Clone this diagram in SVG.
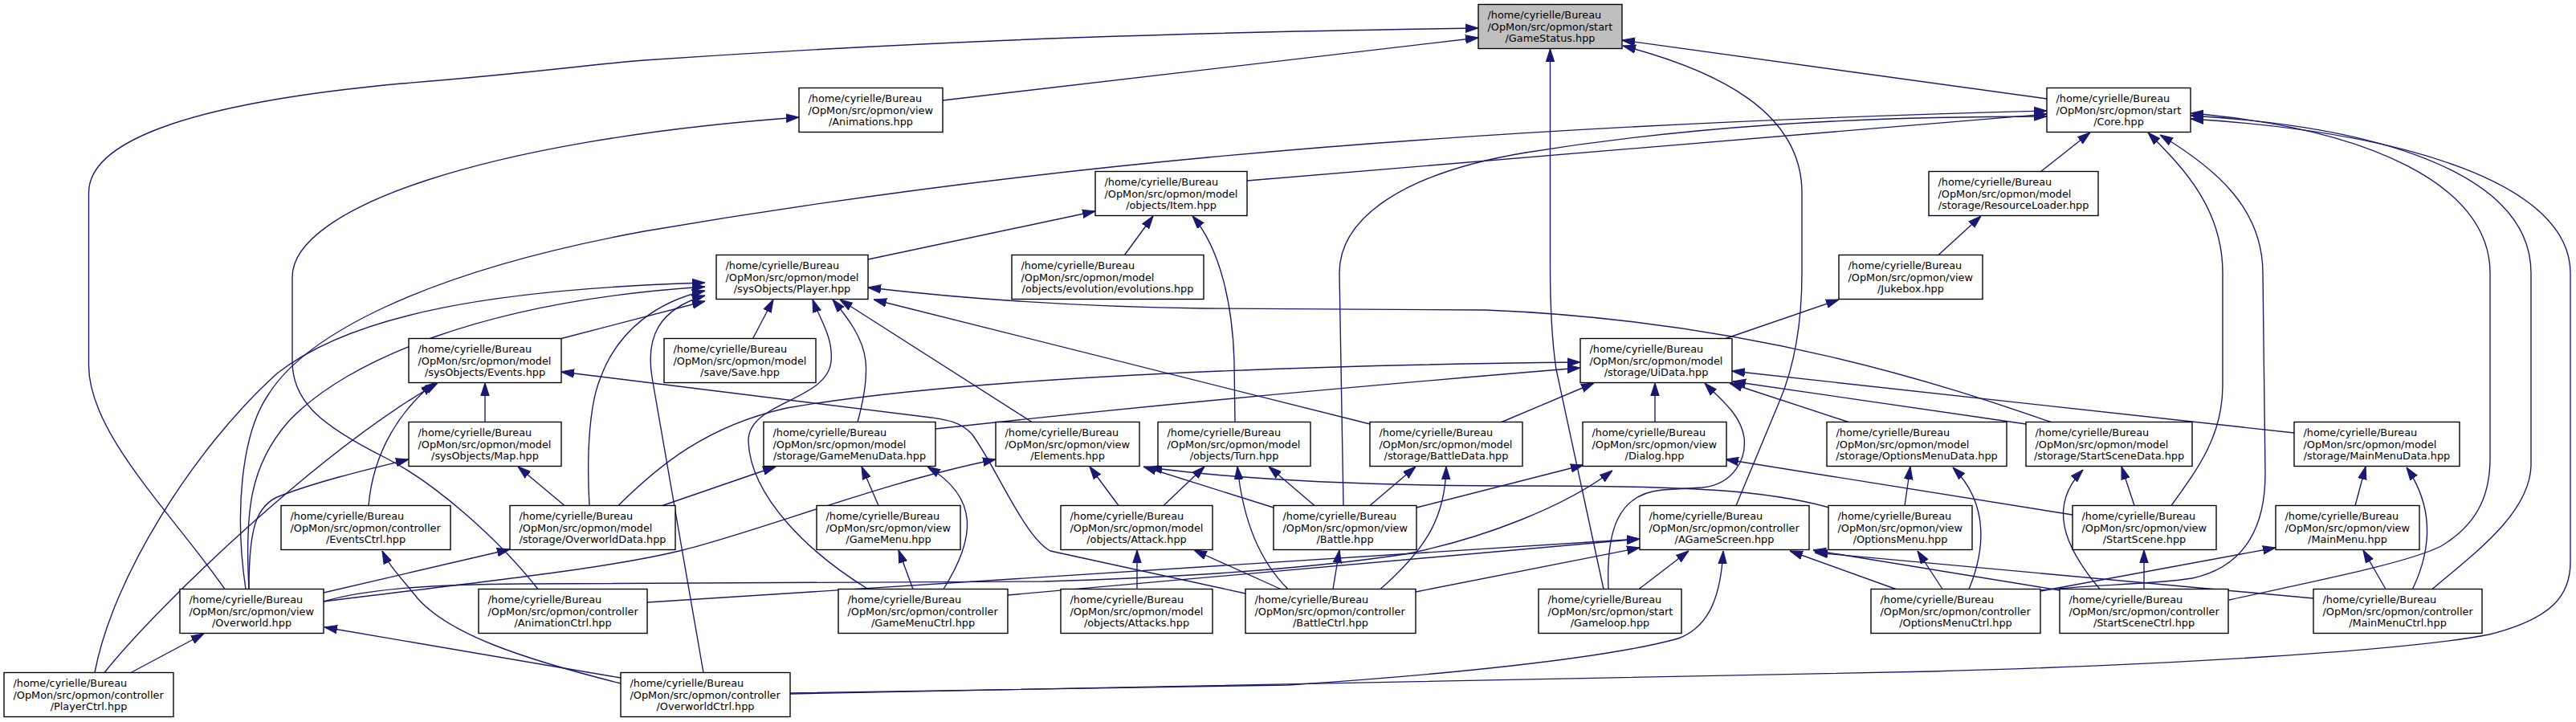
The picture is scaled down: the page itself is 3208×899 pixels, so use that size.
<svg xmlns="http://www.w3.org/2000/svg" width="3208" height="899" viewBox="0 0 3208 899">
<style>
.n rect{fill:#fff;stroke:#000;stroke-width:1.37}
.root rect{fill:#bfbfbf}
text{font-family:"DejaVu Sans","Liberation Sans",sans-serif;font-size:12.85px;fill:#000}
text.c{text-anchor:middle}
#edges path{fill:none;stroke:#191970;stroke-width:1.37;marker-end:url(#a)}
</style>
<defs>
<marker id="a" markerUnits="userSpaceOnUse" markerWidth="16" markerHeight="12" viewBox="0 0 14 10" refX="14" refY="5" orient="auto"><path d="M0,0.5 L14,5 L0,9.5 z" fill="#191970" stroke="#191970" stroke-width="1"/></marker>
</defs>
<rect width="3208" height="899" fill="#fff"/>
<g id="edges">
<path d="M280,733.5 C215,640 110.5,540 110.5,455 L110.5,240 C110.5,180 220,130 500,104 C650,92 720,82 802,75 C1200,48 1500,40 1841,35"/>
<path d="M1174,125 L1841,47"/>
<path d="M2549,123 L2020,50"/>
<path d="M2162,629.5 L2216,500 C2235,455 2244,400 2244,340 L2244,240 C2244,140 2140,88 2021,57"/>
<path d="M1997,733.5 L1938,460 C1932,420 1930.5,380 1930.5,330 L1930.5,61"/>
<path d="M1553,225 L2549,142"/>
<path d="M306,733.5 C292,640 300,540 335,490 C380,420 520,340 802,288 C1200,220 1700,160 2549,138"/>
<path d="M310,733.5 C305,640 310,580 360,524 C430,450 600,375 878,357"/>
<path d="M118,837.5 C140,720 240,560 345,465 C440,390 620,360 878,352"/>
<path d="M130,837.5 C200,750 400,560 545,477"/>
<path d="M163,837.5 L254,789"/>
<path d="M310,733.5 C310,660 318,628 350,617 C400,598 460,584 509,572"/>
<path d="M403,738 L635,684"/>
<path d="M403,749 C550,730 750,710 850,685 C950,660 1100,600 1240,572"/>
<path d="M403,749 C450,735 520,728 650,727 L1300,724 C1500,718 1650,705 1750,690 C1850,670 1950,630 2008,586"/>
<path d="M773,844 L404,781"/>
<path d="M876,837.5 L812,470 C804,420 820,385 878,368"/>
<path d="M773,851 C650,820 560,790 520,745 C500,720 485,705 476,686"/>
<path d="M984,863 L1604,853 C1800,840 2000,820 2090,795 C2130,780 2143,740 2146,686"/>
<path d="M984,864 C1500,855 2000,845 2406,836 C2700,828 3000,810 3100,790 C3180,770 3201,740 3201,700 L3201,340 C3201,230 3000,165 2728,148"/>
<path d="M670,733.5 C620,670 540,600 480,570 C400,530 364,500 364,450 L364,345 C364,260 600,175 995,146"/>
<path d="M806,750 L2042,671"/>
<path d="M1255,741 L2042,671"/>
<path d="M1763,737 L2042,682"/>
<path d="M2041,733.5 L2103,686"/>
<path d="M2003,733.5 C2000,660 2015,615 2070,610 L2120,607 C2160,603 2175,570 2172,545 C2168,515 2140,495 2123,477"/>
<path d="M2361,733.5 L2229,686"/>
<path d="M2565,735 L2258,685"/>
<path d="M2881,745 L2260,688"/>
<path d="M2419,733.5 L2388,686"/>
<path d="M2452,733.5 C2470,690 2480,630 2432,582"/>
<path d="M2541.5,735 C2600,728 2680,728 2730,720 C2800,705 2821,650 2821,590 L2818,340 C2818,260 2760,210 2690,168"/>
<path d="M2541.5,736 L2834,682"/>
<path d="M2670,733.5 L2670,685"/>
<path d="M2615,733.5 C2570,680 2550,630 2594,585"/>
<path d="M2776,747 C2900,720 3000,700 3040,680 C3090,650 3101,610 3101,570 L3101,340 C3101,230 2950,160 2728,141"/>
<path d="M3029,733.5 C3080,690 3150,640 3152,580 L3152,340 C3152,230 3000,160 2728,144"/>
<path d="M2971,733.5 L2943,685"/>
<path d="M3004.5,733.5 C3030,680 3030,630 2997,582"/>
<path d="M2933,629.5 L2946,581"/>
<path d="M2658,629.5 L2642,581"/>
<path d="M2704,629.5 C2740,580 2768,540 2768,480 L2768,340 C2768,260 2720,210 2675,165"/>
<path d="M2581,641 L2149,572"/>
<path d="M2372,629.5 L2379,581"/>
<path d="M2278,632 C2200,610 2100,605 1900,605 C1700,605 1550,598 1431,582"/>
<path d="M1586,632 L1424,581"/>
<path d="M1637,629.5 L1580,581"/>
<path d="M1706,629.5 L1763,581"/>
<path d="M1764,632 L1972,579"/>
<path d="M1673,629.5 L1668,340 C1668,270 1750,215 1900,190 C2100,158 2300,145 2549,145"/>
<path d="M1660,733.5 L1668,685"/>
<path d="M1719,733.5 C1780,680 1800,640 1801,581"/>
<path d="M1604,733.5 C1570,700 1548,650 1541,581"/>
<path d="M1595,733.5 L1487,685"/>
<path d="M1551,739 L1308,686 C1275,668 1240,580 1210,540 C1195,525 1180,523 1160,520 L699,463"/>
<path d="M1393,629.5 L1357,581"/>
<path d="M1449,629.5 L1500,581"/>
<path d="M1416,733.5 L1416,685"/>
<path d="M1137,733.5 L1119,685"/>
<path d="M1175,733.5 C1215,670 1220,620 1155,581"/>
<path d="M1081,733.5 C1010,690 935,620 932,550 C930,500 1030,500 1035,450 C1038,420 1020,395 1012,373"/>
<path d="M1068,525.5 C1075,500 1080,470 1078,450 C1075,420 1055,395 1037,373"/>
<path d="M1285,525.5 L1046,373"/>
<path d="M1706,528 L1088,373"/>
<path d="M937.6,421.5 L963,373"/>
<path d="M1400.5,317.5 L1436,269"/>
<path d="M1081,323 L1364,263"/>
<path d="M1538,525.5 L1537,450 C1535,380 1520,310 1485,269"/>
<path d="M699,421.5 L878,375"/>
<path d="M459,629.5 C465,560 500,510 540,477"/>
<path d="M604,525.5 L604,477"/>
<path d="M703,629.5 L645,581"/>
<path d="M734,629.5 C730,560 735,500 748,470 C770,410 820,375 878,362"/>
<path d="M825,629.5 L966,581"/>
<path d="M770,629.5 C820,580 880,530 980,508 C1200,470 1600,455 1968,451"/>
<path d="M1094,629.5 L1073,581"/>
<path d="M1165,534 C1400,508 1700,480 1968,458"/>
<path d="M1870,525.5 L1985,477"/>
<path d="M2061,525.5 L2061,477"/>
<path d="M2302,525.5 L2154,477"/>
<path d="M2523,528 L2158,475"/>
<path d="M2857,539 L2157,462"/>
<path d="M2554,525.5 C2450,490 2200,400 1850,386 L1500,384 C1350,382 1200,372 1081,358"/>
<path d="M2149,421.5 L2290,373"/>
<path d="M2414,317.5 L2467,269"/>
<path d="M2541.6,213.5 L2603,165"/>
</g>
<g id="n0" class="n root" transform="translate(1841,5.5)"><rect width="179" height="55"/><text x="11.5" y="17.3">/home/cyrielle/Bureau</text><text x="11.5" y="32">/OpMon/src/opmon/start</text><text class="c" x="89.5" y="46.6">/GameStatus.hpp</text></g>
<g id="n1" class="n" transform="translate(995,109.5)"><rect width="179" height="55"/><text x="11.5" y="17.3">/home/cyrielle/Bureau</text><text x="11.5" y="32">/OpMon/src/opmon/view</text><text class="c" x="89.5" y="46.6">/Animations.hpp</text></g>
<g id="n2" class="n" transform="translate(2549,109.5)"><rect width="179" height="55"/><text x="11.5" y="17.3">/home/cyrielle/Bureau</text><text x="11.5" y="32">/OpMon/src/opmon/start</text><text class="c" x="89.5" y="46.6">/Core.hpp</text></g>
<g id="n3" class="n" transform="translate(1364,213.5)"><rect width="189" height="55"/><text x="11.5" y="17.3">/home/cyrielle/Bureau</text><text x="11.5" y="32">/OpMon/src/opmon/model</text><text class="c" x="94.5" y="46.6">/objects/Item.hpp</text></g>
<g id="n4" class="n" transform="translate(2402,213.5)"><rect width="211" height="55"/><text x="11.5" y="17.3">/home/cyrielle/Bureau</text><text x="11.5" y="32">/OpMon/src/opmon/model</text><text class="c" x="105.5" y="46.6">/storage/ResourceLoader.hpp</text></g>
<g id="n5" class="n" transform="translate(892,317.5)"><rect width="189" height="55"/><text x="11.5" y="17.3">/home/cyrielle/Bureau</text><text x="11.5" y="32">/OpMon/src/opmon/model</text><text class="c" x="94.5" y="46.6">/sysObjects/Player.hpp</text></g>
<g id="n6" class="n" transform="translate(1260,317.5)"><rect width="239" height="55"/><text x="11.5" y="17.3">/home/cyrielle/Bureau</text><text x="11.5" y="32">/OpMon/src/opmon/model</text><text class="c" x="119.5" y="46.6">/objects/evolution/evolutions.hpp</text></g>
<g id="n7" class="n" transform="translate(2290,317.5)"><rect width="179" height="55"/><text x="11.5" y="17.3">/home/cyrielle/Bureau</text><text x="11.5" y="32">/OpMon/src/opmon/view</text><text class="c" x="89.5" y="46.6">/Jukebox.hpp</text></g>
<g id="n8" class="n" transform="translate(509,421.5)"><rect width="190" height="55"/><text x="11.5" y="17.3">/home/cyrielle/Bureau</text><text x="11.5" y="32">/OpMon/src/opmon/model</text><text class="c" x="95" y="46.6">/sysObjects/Events.hpp</text></g>
<g id="n9" class="n" transform="translate(827,421.5)"><rect width="189" height="55"/><text x="11.5" y="17.3">/home/cyrielle/Bureau</text><text x="11.5" y="32">/OpMon/src/opmon/model</text><text class="c" x="94.5" y="46.6">/save/Save.hpp</text></g>
<g id="n10" class="n" transform="translate(1968,421.5)"><rect width="189" height="55"/><text x="11.5" y="17.3">/home/cyrielle/Bureau</text><text x="11.5" y="32">/OpMon/src/opmon/model</text><text class="c" x="94.5" y="46.6">/storage/UiData.hpp</text></g>
<g id="n11" class="n" transform="translate(509,525.5)"><rect width="190" height="55"/><text x="11.5" y="17.3">/home/cyrielle/Bureau</text><text x="11.5" y="32">/OpMon/src/opmon/model</text><text class="c" x="95" y="46.6">/sysObjects/Map.hpp</text></g>
<g id="n12" class="n" transform="translate(951,525.5)"><rect width="214" height="55"/><text x="11.5" y="17.3">/home/cyrielle/Bureau</text><text x="11.5" y="32">/OpMon/src/opmon/model</text><text class="c" x="107" y="46.6">/storage/GameMenuData.hpp</text></g>
<g id="n13" class="n" transform="translate(1240,525.5)"><rect width="179" height="55"/><text x="11.5" y="17.3">/home/cyrielle/Bureau</text><text x="11.5" y="32">/OpMon/src/opmon/view</text><text class="c" x="89.5" y="46.6">/Elements.hpp</text></g>
<g id="n14" class="n" transform="translate(1442,525.5)"><rect width="190" height="55"/><text x="11.5" y="17.3">/home/cyrielle/Bureau</text><text x="11.5" y="32">/OpMon/src/opmon/model</text><text class="c" x="95" y="46.6">/objects/Turn.hpp</text></g>
<g id="n15" class="n" transform="translate(1706,525.5)"><rect width="190" height="55"/><text x="11.5" y="17.3">/home/cyrielle/Bureau</text><text x="11.5" y="32">/OpMon/src/opmon/model</text><text class="c" x="95" y="46.6">/storage/BattleData.hpp</text></g>
<g id="n16" class="n" transform="translate(1971,525.5)"><rect width="179" height="55"/><text x="11.5" y="17.3">/home/cyrielle/Bureau</text><text x="11.5" y="32">/OpMon/src/opmon/view</text><text class="c" x="89.5" y="46.6">/Dialog.hpp</text></g>
<g id="n17" class="n" transform="translate(2275,525.5)"><rect width="224" height="55"/><text x="11.5" y="17.3">/home/cyrielle/Bureau</text><text x="11.5" y="32">/OpMon/src/opmon/model</text><text class="c" x="112" y="46.6">/storage/OptionsMenuData.hpp</text></g>
<g id="n18" class="n" transform="translate(2523,525.5)"><rect width="207" height="55"/><text x="11.5" y="17.3">/home/cyrielle/Bureau</text><text x="11.5" y="32">/OpMon/src/opmon/model</text><text class="c" x="103.5" y="46.6">/storage/StartSceneData.hpp</text></g>
<g id="n19" class="n" transform="translate(2857,525.5)"><rect width="206" height="55"/><text x="11.5" y="17.3">/home/cyrielle/Bureau</text><text x="11.5" y="32">/OpMon/src/opmon/model</text><text class="c" x="103" y="46.6">/storage/MainMenuData.hpp</text></g>
<g id="n20" class="n" transform="translate(350,629.5)"><rect width="211" height="55"/><text x="11.5" y="17.3">/home/cyrielle/Bureau</text><text x="11.5" y="32">/OpMon/src/opmon/controller</text><text class="c" x="105.5" y="46.6">/EventsCtrl.hpp</text></g>
<g id="n21" class="n" transform="translate(635,629.5)"><rect width="206" height="55"/><text x="11.5" y="17.3">/home/cyrielle/Bureau</text><text x="11.5" y="32">/OpMon/src/opmon/model</text><text class="c" x="103" y="46.6">/storage/OverworldData.hpp</text></g>
<g id="n22" class="n" transform="translate(1017,629.5)"><rect width="179" height="55"/><text x="11.5" y="17.3">/home/cyrielle/Bureau</text><text x="11.5" y="32">/OpMon/src/opmon/view</text><text class="c" x="89.5" y="46.6">/GameMenu.hpp</text></g>
<g id="n23" class="n" transform="translate(1321,629.5)"><rect width="189" height="55"/><text x="11.5" y="17.3">/home/cyrielle/Bureau</text><text x="11.5" y="32">/OpMon/src/opmon/model</text><text class="c" x="94.5" y="46.6">/objects/Attack.hpp</text></g>
<g id="n24" class="n" transform="translate(1586,629.5)"><rect width="178" height="55"/><text x="11.5" y="17.3">/home/cyrielle/Bureau</text><text x="11.5" y="32">/OpMon/src/opmon/view</text><text class="c" x="89" y="46.6">/Battle.hpp</text></g>
<g id="n25" class="n" transform="translate(2042,629.5)"><rect width="211" height="55"/><text x="11.5" y="17.3">/home/cyrielle/Bureau</text><text x="11.5" y="32">/OpMon/src/opmon/controller</text><text class="c" x="105.5" y="46.6">/AGameScreen.hpp</text></g>
<g id="n26" class="n" transform="translate(2277,629.5)"><rect width="179" height="55"/><text x="11.5" y="17.3">/home/cyrielle/Bureau</text><text x="11.5" y="32">/OpMon/src/opmon/view</text><text class="c" x="89.5" y="46.6">/OptionsMenu.hpp</text></g>
<g id="n27" class="n" transform="translate(2581,629.5)"><rect width="179" height="55"/><text x="11.5" y="17.3">/home/cyrielle/Bureau</text><text x="11.5" y="32">/OpMon/src/opmon/view</text><text class="c" x="89.5" y="46.6">/StartScene.hpp</text></g>
<g id="n28" class="n" transform="translate(2834,629.5)"><rect width="179" height="55"/><text x="11.5" y="17.3">/home/cyrielle/Bureau</text><text x="11.5" y="32">/OpMon/src/opmon/view</text><text class="c" x="89.5" y="46.6">/MainMenu.hpp</text></g>
<g id="n29" class="n" transform="translate(224,733.5)"><rect width="179" height="55"/><text x="11.5" y="17.3">/home/cyrielle/Bureau</text><text x="11.5" y="32">/OpMon/src/opmon/view</text><text class="c" x="89.5" y="46.6">/Overworld.hpp</text></g>
<g id="n30" class="n" transform="translate(596,733.5)"><rect width="210" height="55"/><text x="11.5" y="17.3">/home/cyrielle/Bureau</text><text x="11.5" y="32">/OpMon/src/opmon/controller</text><text class="c" x="105" y="46.6">/AnimationCtrl.hpp</text></g>
<g id="n31" class="n" transform="translate(1044,733.5)"><rect width="211" height="55"/><text x="11.5" y="17.3">/home/cyrielle/Bureau</text><text x="11.5" y="32">/OpMon/src/opmon/controller</text><text class="c" x="105.5" y="46.6">/GameMenuCtrl.hpp</text></g>
<g id="n32" class="n" transform="translate(1321,733.5)"><rect width="189" height="55"/><text x="11.5" y="17.3">/home/cyrielle/Bureau</text><text x="11.5" y="32">/OpMon/src/opmon/model</text><text class="c" x="94.5" y="46.6">/objects/Attacks.hpp</text></g>
<g id="n33" class="n" transform="translate(1551,733.5)"><rect width="212" height="55"/><text x="11.5" y="17.3">/home/cyrielle/Bureau</text><text x="11.5" y="32">/OpMon/src/opmon/controller</text><text class="c" x="106" y="46.6">/BattleCtrl.hpp</text></g>
<g id="n34" class="n" transform="translate(1916,733.5)"><rect width="178" height="55"/><text x="11.5" y="17.3">/home/cyrielle/Bureau</text><text x="11.5" y="32">/OpMon/src/opmon/start</text><text class="c" x="89" y="46.6">/Gameloop.hpp</text></g>
<g id="n35" class="n" transform="translate(2330,733.5)"><rect width="211" height="55"/><text x="11.5" y="17.3">/home/cyrielle/Bureau</text><text x="11.5" y="32">/OpMon/src/opmon/controller</text><text class="c" x="105.5" y="46.6">/OptionsMenuCtrl.hpp</text></g>
<g id="n36" class="n" transform="translate(2565,733.5)"><rect width="210" height="55"/><text x="11.5" y="17.3">/home/cyrielle/Bureau</text><text x="11.5" y="32">/OpMon/src/opmon/controller</text><text class="c" x="105" y="46.6">/StartSceneCtrl.hpp</text></g>
<g id="n37" class="n" transform="translate(2881,733.5)"><rect width="210" height="55"/><text x="11.5" y="17.3">/home/cyrielle/Bureau</text><text x="11.5" y="32">/OpMon/src/opmon/controller</text><text class="c" x="105" y="46.6">/MainMenuCtrl.hpp</text></g>
<g id="n38" class="n" transform="translate(5,837.5)"><rect width="211" height="55"/><text x="11.5" y="17.3">/home/cyrielle/Bureau</text><text x="11.5" y="32">/OpMon/src/opmon/controller</text><text class="c" x="105.5" y="46.6">/PlayerCtrl.hpp</text></g>
<g id="n39" class="n" transform="translate(773,837.5)"><rect width="211" height="55"/><text x="11.5" y="17.3">/home/cyrielle/Bureau</text><text x="11.5" y="32">/OpMon/src/opmon/controller</text><text class="c" x="105.5" y="46.6">/OverworldCtrl.hpp</text></g>
</svg>
